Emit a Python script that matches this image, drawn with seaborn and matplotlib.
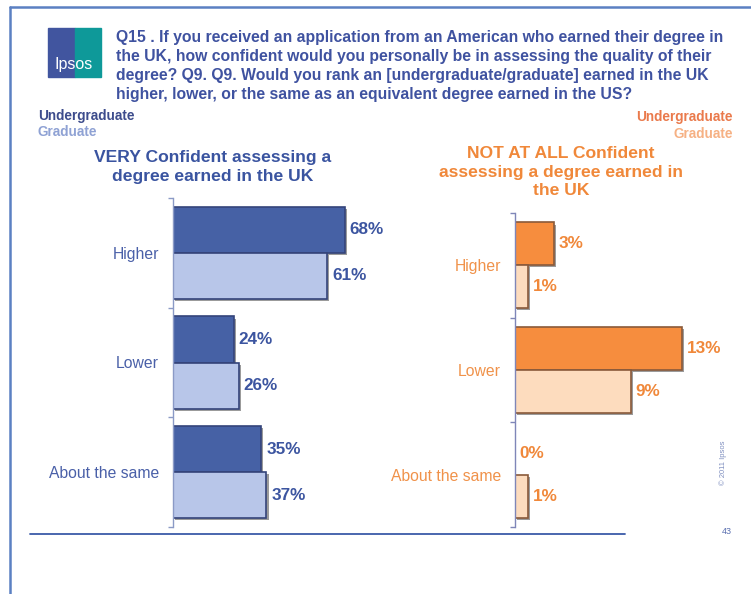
import matplotlib
matplotlib.use("Agg")
import matplotlib.pyplot as plt
import matplotlib.patheffects as pe
from matplotlib.patches import Rectangle
from matplotlib.lines import Line2D
import seaborn as sns
import pandas as pd

# ---------------- data ----------------
categories = ["Higher", "Lower", "About the same"]
levels = ["Undergraduate", "Graduate"]
very_undergrad = [68, 24, 35]
very_grad = [61, 26, 37]
notall_undergrad = [3, 13, 0]
notall_grad = [1, 9, 1]

title_text = ("Q15 . If you received an application from an American who earned their degree in\n"
              "the UK, how confident would you personally be in assessing the quality of their\n"
              "degree? Q9. Q9. Would you rank an [undergraduate/graduate] earned in the UK\n"
              "higher, lower, or the same as an equivalent degree earned in the US?")
left_title = "VERY Confident assessing a\ndegree earned in the UK"
right_title = "NOT AT ALL Confident\nassessing a degree earned in\nthe UK"


def long_df(ug, gr):
    rows = []
    for c, u, g in zip(categories, ug, gr):
        rows.append({"category": c, "level": levels[0], "value": u})
        rows.append({"category": c, "level": levels[1], "value": g})
    return pd.DataFrame(rows)


df_very = long_df(very_undergrad, very_grad)
df_not = long_df(notall_undergrad, notall_grad)

sns.set_theme(style="white")
plt.rcParams["font.family"] = ["Liberation Sans", "DejaVu Sans"]

W, H = 751, 594
fig = plt.figure(figsize=(W / 100, H / 100), dpi=100)
fig.patch.set_facecolor("white")


def px_axes(x0, y0, x1, y1):
    return fig.add_axes([x0 / W, 1 - y1 / H, (x1 - x0) / W, (y1 - y0) / H])


def fx(x):
    return x / W


def fy(y):
    return 1 - y / H


# ---------------- frame & decorations ----------------
frame_col = "#5b80c2"
fig.add_artist(Line2D([fx(10), fx(10)], [fy(7), fy(594)], color=frame_col, lw=1.8, transform=fig.transFigure))
fig.add_artist(Line2D([fx(10), fx(751)], [fy(7), fy(7)], color=frame_col, lw=1.8, transform=fig.transFigure))
fig.add_artist(Line2D([fx(30), fx(625)], [fy(534), fy(534)], color="#3a5aa8", lw=1.3, transform=fig.transFigure))

# logo
fig.add_artist(Rectangle((fx(48), fy(77)), fx(27), (77 - 28) / H, color="#41559f", transform=fig.transFigure))
fig.add_artist(Rectangle((fx(75), fy(77)), fx(26), (77 - 28) / H, color="#0e9999", transform=fig.transFigure))
fig.text(fx(74), fy(65), "Ipsos", color="white", fontsize=11.5, ha="center", va="center")

title_col = "#3f52a0"
fig.text(fx(116), fy(30), title_text, color=title_col, fontsize=11.3, fontweight="bold",
         ha="left", va="top", linespacing=1.32)

fig.text(fx(38), fy(116), "Undergraduate", color="#3d4c8c", fontsize=9.8, fontweight="bold", ha="left", va="center")
fig.text(fx(38), fy(132), "Graduate", color="#8fa2d4", fontsize=9.8, fontweight="bold", ha="left", va="center")
fig.text(fx(733), fy(117), "Undergraduate", color="#ea7a4c", fontsize=9.8, fontweight="bold", ha="right", va="center")
fig.text(fx(733), fy(134), "Graduate", color="#f6b184", fontsize=9.8, fontweight="bold", ha="right", va="center")

fig.text(fx(213), fy(167), left_title, color="#3a54a0", fontsize=12.6, fontweight="bold",
         ha="center", va="center", linespacing=1.3)
fig.text(fx(561), fy(172), right_title, color="#f0883a", fontsize=12.6, fontweight="bold",
         ha="center", va="center", linespacing=1.3)

fig.text(fx(723), fy(463), "© 2011 Ipsos", color="#8090c0", fontsize=5.5, rotation=90, ha="center", va="center")
fig.text(fx(727), fy(531), "43", color="#5a6fb0", fontsize=6.5, ha="center", va="center")


# ---------------- charts ----------------
def draw(ax, df, palette, edge, xmax, spine_col, cat_col, lab_col, width):
    sns.barplot(data=df, x="value", y="category", hue="level", orient="h", order=categories,
                hue_order=levels, palette=palette, saturation=1, width=width, ax=ax,
                legend=False, edgecolor=edge, linewidth=1.2, errorbar=None)
    for bar in ax.patches:
        bar.set_path_effects([pe.SimplePatchShadow(offset=(1.5, -1.5), shadow_rgbFace="#222222", alpha=0.45),
                              pe.Normal()])
    for cont in ax.containers:
        vals = [int(round(b.get_width())) for b in cont]
        ax.bar_label(cont, labels=[f"{v}%" for v in vals], padding=3.5, color=lab_col,
                     fontsize=12.3, fontweight="bold")
    ax.set_xlim(0, xmax)
    ax.set_ylim(2.5, -0.5)
    ax.set_xlabel("")
    ax.set_ylabel("")
    ax.set_xticks([])
    for s in ["top", "right", "bottom"]:
        ax.spines[s].set_visible(False)
    ax.spines["left"].set_color(spine_col)
    ax.spines["left"].set_linewidth(1.0)
    ax.set_yticks(range(len(categories)))
    ax.set_yticklabels(categories)
    ax.tick_params(axis="y", which="major", length=0, pad=10, labelsize=11.3, labelcolor=cat_col)
    ax.set_yticks([-0.5, 0.5, 1.5, 2.5], minor=True)
    ax.tick_params(axis="y", which="minor", length=3.5, width=1.0, color=spine_col, direction="out", left=True)
    ax.set_facecolor("none")


axL = px_axes(173, 198, 375, 527)
draw(axL, df_very, ["#4661a5", "#b8c6e9"], "#34447a", 80, "#8b9ac6", "#4a60a8", "#3c55a0", 0.84)

axR = px_axes(515, 213, 721, 527)
draw(axR, df_not, ["#f68d3e", "#fddcbe"], "#8a5a3a", 16, "#7f86b8", "#f0924a", "#f0883a", 0.82)

fig.savefig("out.png", dpi=100)
